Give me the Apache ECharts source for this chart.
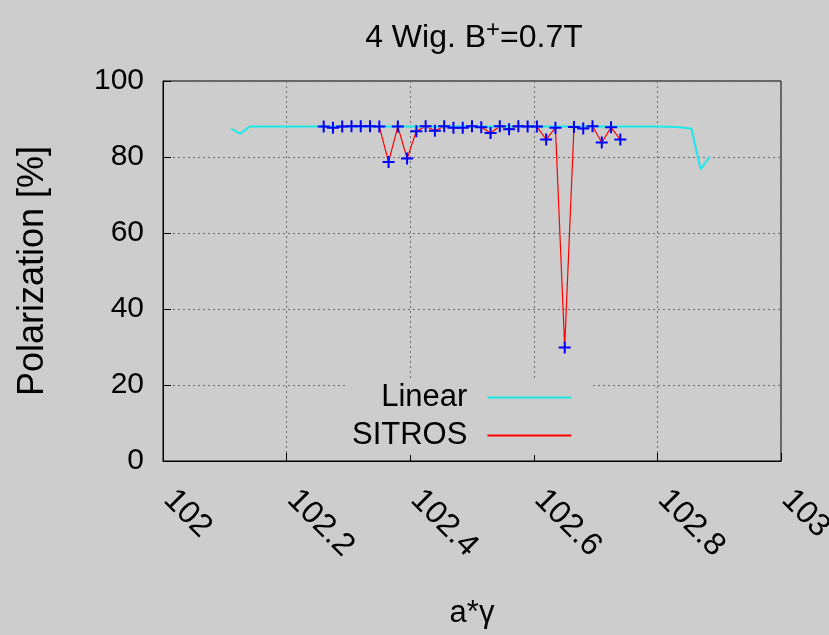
<!DOCTYPE html>
<html>
<head>
<meta charset="utf-8">
<script src="https://cdn.jsdelivr.net/npm/echarts@6/dist/echarts.min.js"></script>
<style>
html,body{margin:0;padding:0;background:#cdcdcd;}
#chart{width:829px;height:635px;}
</style>
</head>
<body>
<div id="chart"></div>
<script>
// ---- data ----
var sitrosX = [102.26, 102.275, 102.29, 102.305, 102.32, 102.335, 102.35, 102.365, 102.38, 102.395,
               102.41, 102.425, 102.44, 102.455, 102.47, 102.485, 102.50, 102.515, 102.53, 102.545,
               102.56, 102.575, 102.59, 102.605, 102.62, 102.635, 102.65, 102.665, 102.68, 102.695,
               102.71, 102.725, 102.74];
var sitrosY = [88.0, 87.7, 88.0, 88.1, 88.1, 88.1, 88.0, 78.7, 88.0, 79.6,
               86.8, 88.1, 86.9, 88.1, 87.7, 87.7, 88.1, 87.8, 86.3, 88.1,
               87.3, 88.1, 88.0, 88.0, 84.6, 87.7, 29.9, 87.9, 87.5, 88.1,
               83.8, 87.8, 84.6];
var linearX = [102.11, 102.125, 102.14, 102.50, 102.80, 102.83, 102.855, 102.87, 102.885];
var linearY = [87.5, 86.1, 88.0, 88.0, 88.0, 87.9, 87.5, 76.8, 80.1];
var xTicks = [102, 102.2, 102.4, 102.6, 102.8, 103];
var yTicks = [0, 20, 40, 60, 80, 100];

function pairs(xs, ys) { return xs.map(function (x, i) { return [x, ys[i]]; }); }

var FONT = 'Liberation Sans, Arial, Helvetica, sans-serif';
var chart = echarts.init(document.getElementById('chart'), null, {renderer: 'canvas'});
var gridStyle = {show: true, lineStyle: {color: '#6a6a6a', type: [2, 3], width: 1}};

chart.setOption({
  backgroundColor: '#cdcdcd',
  animation: false,
  title: {
    text: '4 Wig. B{sup|+}=0.7T',
    left: 469, top: 13, textAlign: 'center',
    textStyle: {
      fontFamily: FONT, fontSize: 32, fontWeight: 'normal', color: '#000',
      rich: {sup: {fontFamily: FONT, fontSize: 24, verticalAlign: 'top', padding: [0, 0, 16, 0], color: '#000'}}
    }
  },
  grid: {left: 163, right: 48, top: 81, bottom: 174, outerBoundsMode: 'none', containLabel: false,
         show: true, borderColor: '#000', borderWidth: 1, backgroundColor: 'transparent'},
  legend: {
    orient: 'vertical', align: 'right',
    left: 348, top: 378,
    padding: [4, 19, 4, 4],
    itemGap: 7, itemWidth: 84, itemHeight: 2,
    backgroundColor: '#cdcdcd',
    textStyle: {fontFamily: FONT, fontSize: 31, color: '#000', lineHeight: 30, padding: [0, 15, 0, 0]},
    data: [
      {name: 'Linear', icon: 'rect', itemStyle: {color: '#1ee8e8'}},
      {name: 'SITROS', icon: 'rect', itemStyle: {color: '#ff0000'}}
    ],
    selectedMode: false
  },
  xAxis: {
    type: 'value', min: xTicks[0], max: xTicks[xTicks.length - 1], interval: 0.2,
    name: 'a*\u03b3', nameLocation: 'middle', nameGap: 137,
    nameTextStyle: {fontFamily: FONT, fontSize: 31, color: '#000'},
    axisLine: {show: true, lineStyle: {color: '#000', width: 1}},
    axisTick: {show: true, inside: true, length: 8, lineStyle: {color: '#000'}},
    axisLabel: {
      rotate: -45, margin: 28, padding: [0, 0, 0, 8], fontFamily: FONT, fontSize: 32, color: '#000',
      formatter: function (v) { return String(Math.round(v * 10) / 10); }
    },
    splitLine: gridStyle
  },
  yAxis: {
    type: 'value', min: yTicks[0], max: yTicks[yTicks.length - 1], interval: 20,
    name: 'Polarization [%]', nameLocation: 'middle', nameGap: 112,
    nameTextStyle: {fontFamily: FONT, fontSize: 36, color: '#000'},
    axisLine: {show: true, lineStyle: {color: '#000', width: 1}},
    axisTick: {show: true, inside: true, length: 8, lineStyle: {color: '#000'}},
    axisLabel: {margin: 19, fontFamily: FONT, fontSize: 30, color: '#000'},
    splitLine: gridStyle
  },
  series: [
    {
      name: 'SITROS', type: 'line', z: 2, data: pairs(sitrosX, sitrosY),
      showSymbol: false, symbol: 'none',
      lineStyle: {color: '#ff0000', width: 1.2}, itemStyle: {color: '#ff0000'}
    },
    {
      name: 'Linear', type: 'line', z: 3, data: pairs(linearX, linearY),
      showSymbol: false, symbol: 'none',
      lineStyle: {color: '#1ee8e8', width: 2}, itemStyle: {color: '#1ee8e8'}
    },
    {
      name: 'SITROS', type: 'scatter', z: 4, data: pairs(sitrosX, sitrosY),
      symbol: 'path://M0,5H12V7H0Z M5,0H7V12H5Z', symbolSize: 12,
      itemStyle: {color: '#0000ff', opacity: 1}
    }
  ]
});
</script>
</body>
</html>
